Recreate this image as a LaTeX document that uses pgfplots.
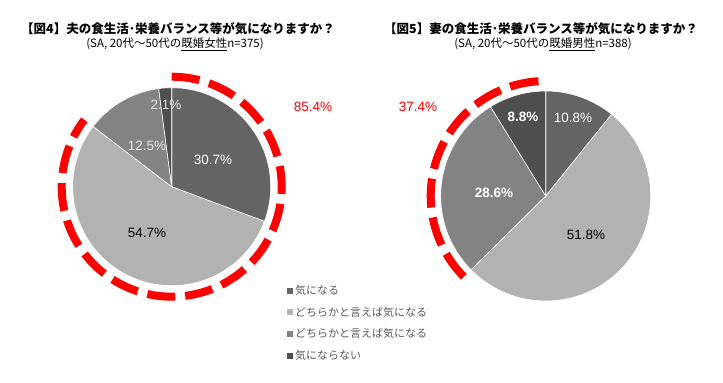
\documentclass[border=0pt]{standalone}
\usepackage{pgfplots}
\pgfplotsset{compat=1.18}
\usepackage{fontspec}
\setmainfont{Noto Sans CJK JP}
\newfontfamily\lab{Liberation Sans}
\definecolor{gA}{HTML}{646464}
\definecolor{gB}{HTML}{B2B2B2}
\definecolor{gC}{HTML}{838383}
\definecolor{gD}{HTML}{4F4F4F}
\definecolor{lg}{HTML}{595959}
\begin{document}
\begin{tikzpicture}
\begin{axis}[hide axis, scale only axis, width=723bp, height=383bp,
  xmin=0, xmax=723, ymin=0, ymax=383, y dir=reverse, clip=false,
  legend image code/.code={\fill[#1, draw=none] (0bp,-3bp) rectangle (6bp,3bp);},
  legend style={at={(axis cs:287,283)}, anchor=north west, draw=none, fill=none,
    font=\fontsize{11bp}{12bp}\selectfont\color{lg}, row sep=7bp,
    inner sep=0pt, cells={anchor=west}},
  legend cell align=left]
% ---- Pie 1 (clockwise from top, percent values as domain)
\addplot[fill=gA, draw=white, line width=0.6bp, domain=0:30.7, samples=40, variable=\t]
  ({171.7+99*sin(3.6*t)}, {186.7-99*cos(3.6*t)}) -- (axis cs:171.7,186.7) -- cycle;
\addlegendentry{気になる}
\addplot[fill=gB, draw=white, line width=0.6bp, domain=30.7:85.4, samples=60, variable=\t]
  ({171.7+99*sin(3.6*t)}, {186.7-99*cos(3.6*t)}) -- (axis cs:171.7,186.7) -- cycle;
\addlegendentry{どちらかと言えば気になる}
\addplot[fill=gC, draw=white, line width=0.6bp, domain=85.4:97.9, samples=20, variable=\t]
  ({171.7+99*sin(3.6*t)}, {186.7-99*cos(3.6*t)}) -- (axis cs:171.7,186.7) -- cycle;
\addlegendentry{どちらかと言えば気になる}
\addplot[fill=gD, draw=white, line width=0.6bp, domain=97.9:100, samples=6, variable=\t]
  ({171.7+99*sin(3.6*t)}, {186.7-99*cos(3.6*t)}) -- (axis cs:171.7,186.7) -- cycle;
\addlegendentry{気にならない}
\addplot[red, line width=8bp, dash pattern=on 28bp off 10bp, domain=0:85.4, samples=150, variable=\t, forget plot]
  ({171.7+110*sin(3.6*t)}, {186.7-110*cos(3.6*t)});
% ---- Pie 2
\addplot[fill=gA, draw=white, line width=0.6bp, domain=0:10.8, samples=15, variable=\t, forget plot]
  ({545.7+105*sin(3.6*t)}, {196-105*cos(3.6*t)}) -- (axis cs:545.7,196) -- cycle;
\addplot[fill=gB, draw=white, line width=0.6bp, domain=10.8:62.6, samples=60, variable=\t, forget plot]
  ({545.7+105*sin(3.6*t)}, {196-105*cos(3.6*t)}) -- (axis cs:545.7,196) -- cycle;
\addplot[fill=gC, draw=white, line width=0.6bp, domain=62.6:91.2, samples=35, variable=\t, forget plot]
  ({545.7+105*sin(3.6*t)}, {196-105*cos(3.6*t)}) -- (axis cs:545.7,196) -- cycle;
\addplot[fill=gD, draw=white, line width=0.6bp, domain=91.2:100, samples=12, variable=\t, forget plot]
  ({545.7+105*sin(3.6*t)}, {196-105*cos(3.6*t)}) -- (axis cs:545.7,196) -- cycle;
\addplot[red, line width=8bp, dash pattern=on 29bp off 10bp, domain=62.6:100, samples=80, variable=\t, forget plot]
  ({545.7+115*sin(3.6*t)}, {196-115*cos(3.6*t)});
% ---- titles
\node[font=\fontsize{12.5bp}{14bp}\selectfont\bfseries] at (axis cs:178,29) {【図4】夫の食生活･栄養バランス等が気になりますか？};
\node[font=\fontsize{11.5bp}{13bp}\selectfont] at (axis cs:175,44) {(SA, 20代～50代の\underline{既婚女性}n=375)};
\node[font=\fontsize{12.5bp}{14bp}\selectfont\bfseries] at (axis cs:541,29) {【図5】妻の食生活･栄養バランス等が気になりますか？};
\node[font=\fontsize{11.5bp}{13bp}\selectfont] at (axis cs:543,44) {(SA, 20代～50代の\underline{既婚男性}n=388)};
% ---- slice labels
\node[font=\lab\fontsize{13.5bp}{14bp}\selectfont, text=white] at (axis cs:213,160) {30.7\%};
\node[font=\lab\fontsize{13.5bp}{14bp}\selectfont, text=black] at (axis cs:147,233) {54.7\%};
\node[font=\lab\fontsize{13.5bp}{14bp}\selectfont, text=black!10] at (axis cs:147,146) {12.5\%};
\node[font=\lab\fontsize{13.5bp}{14bp}\selectfont, text=black!10] at (axis cs:166,105) {2.1\%};
\node[font=\lab\fontsize{13.5bp}{14bp}\selectfont, text=red] at (axis cs:313,107) {85.4\%};
\node[font=\lab\fontsize{13.5bp}{14bp}\selectfont, text=white] at (axis cs:573,118) {10.8\%};
\node[font=\lab\fontsize{13.5bp}{14bp}\selectfont\bfseries, text=white] at (axis cs:523,117) {8.8\%};
\node[font=\lab\fontsize{13.5bp}{14bp}\selectfont\bfseries, text=white] at (axis cs:494,193) {28.6\%};
\node[font=\lab\fontsize{13.5bp}{14bp}\selectfont, text=black] at (axis cs:586,235) {51.8\%};
\node[font=\lab\fontsize{13.5bp}{14bp}\selectfont, text=red] at (axis cs:418,107) {37.4\%};
\end{axis}
\pgfresetboundingbox
\path (current axis.south west) rectangle (current axis.north east);
\end{tikzpicture}
\end{document}
